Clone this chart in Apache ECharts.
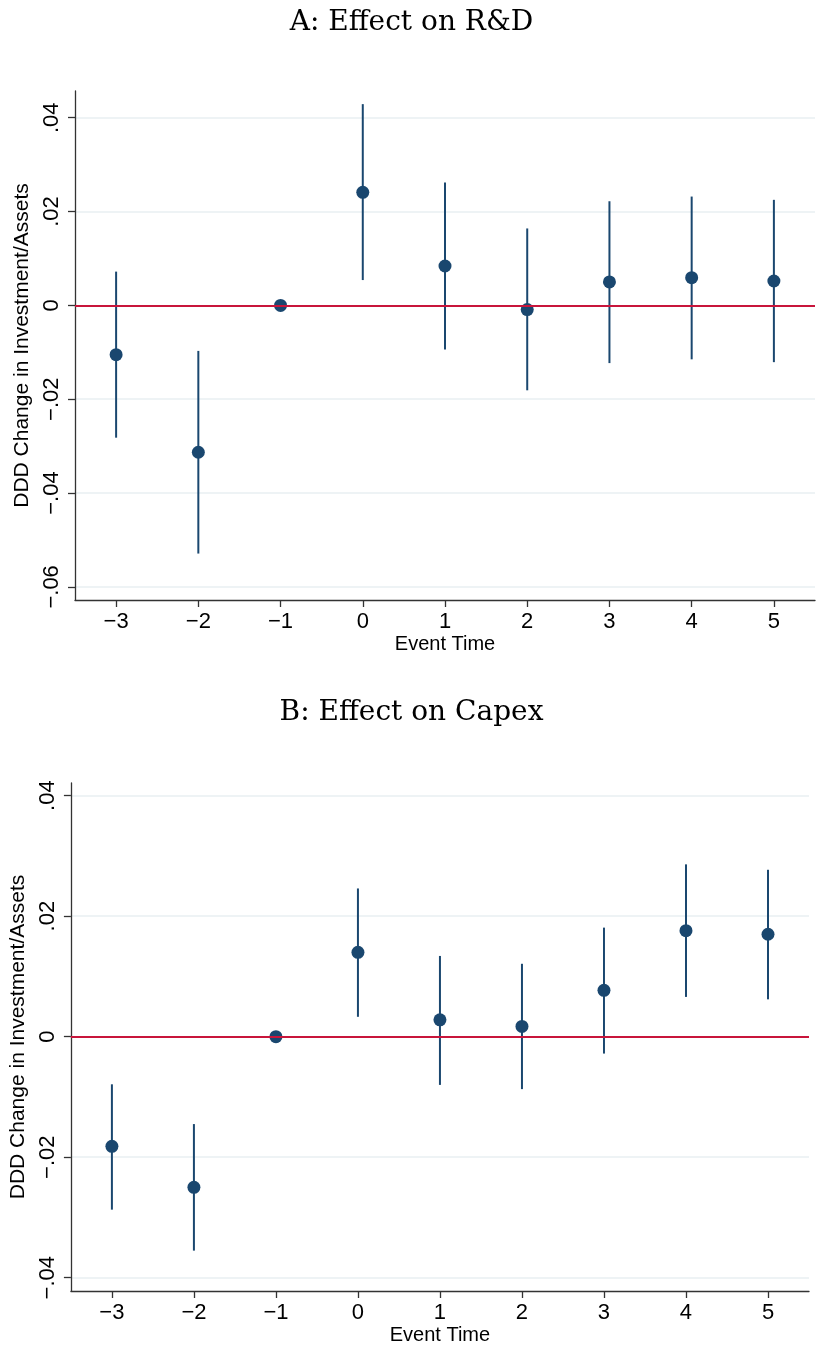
<!DOCTYPE html>
<html>
<head>
<meta charset="utf-8">
<title>DDD event study</title>
<script src="https://cdn.jsdelivr.net/npm/echarts@6/dist/echarts.min.js"></script>
<style>
html,body{margin:0;padding:0;background:#fff;}
#main{width:823px;height:1348px;}
</style>
</head>
<body>
<div id="main"></div>
<script>
// event time
var eventTime = [-3, -2, -1, 0, 1, 2, 3, 4, 5];

// A: R&D
var rdCoef = [-0.0105, -0.0313, 0, 0.0241, 0.0084, -0.0009, 0.0050, 0.0059, 0.0052];
var rdLow  = [-0.0282, -0.0529, null, 0.0054, -0.0094, -0.0181, -0.0123, -0.0115, -0.0121];
var rdHigh = [0.0072, -0.0097, null, 0.0429, 0.0262, 0.0164, 0.0222, 0.0232, 0.0225];

// B: Capex
var capexCoef = [-0.0182, -0.0250, 0, 0.0140, 0.0028, 0.0017, 0.0077, 0.0176, 0.0170];
var capexLow  = [-0.0287, -0.0355, null, 0.0033, -0.0080, -0.0087, -0.0028, 0.0066, 0.0062];
var capexHigh = [-0.0079, -0.0145, null, 0.0246, 0.0134, 0.0121, 0.0181, 0.0286, 0.0277];

// tick labels
var xTicks = [-3, -2, -1, 0, 1, 2, 3, 4, 5];
var rdTicks = [-0.06, -0.04, -0.02, 0, 0.02, 0.04];
var capexTicks = [-0.04, -0.02, 0, 0.02, 0.04];

var navy = '#1a476f';
var red = '#c8153b';
var sans = 'Liberation Sans';

function xFmt(v){
	return v < 0 ? '\u2212' + Math.abs(v) : '' + v;
}
function yFmt(v){
	if (Math.abs(v) < 1e-9) return '0';
	return (v < 0 ? '\u2212' : '') + Math.abs(v).toFixed(2).replace(/^0/, '');
}

function points(coef){
	var out = [];
	for (var i = 0; i < eventTime.length; i++) out.push([eventTime[i], coef[i]]);
	return out;
}
function bars(lo, hi){
	var out = [];
	for (var i = 0; i < eventTime.length; i++){
		if (lo[i] == null) continue;
		out.push([eventTime[i], lo[i], hi[i]]);
	}
	return out;
}

function renderBar(params, api){
	var a = api.coord([api.value(0), api.value(1)]);
	var b = api.coord([api.value(0), api.value(2)]);
	return {
		type: 'line',
		shape: {x1: a[0], y1: a[1], x2: b[0], y2: b[1]},
		style: {stroke: navy, lineWidth: 2}
	};
}

function xAxisCfg(idx){
	return {
		type: 'value', gridIndex: idx, min: -3.5, max: 5.5,
		name: 'Event Time', nameLocation: 'middle', nameGap: 34,
		nameTextStyle: {fontFamily: sans, fontSize: 20, color: '#000'},
		axisLine: {show: true, onZero: false, lineStyle: {color: '#333', width: 1.3}},
		axisTick: {show: true, length: 7, customValues: xTicks, lineStyle: {color: '#333', width: 1.3}},
		axisLabel: {customValues: xTicks, formatter: xFmt, fontFamily: sans, fontSize: 22, color: '#000', margin: 11},
		splitLine: {show: false}
	};
}

function yAxisCfg(idx, min, max, ticks){
	return {
		type: 'value', gridIndex: idx, min: min, max: max,
		name: 'DDD Change in Investment/Assets', nameLocation: 'middle', nameGap: 41, nameRotate: 90,
		nameTextStyle: {fontFamily: sans, fontSize: 21, color: '#000'},
		axisLine: {show: true, onZero: false, lineStyle: {color: '#333', width: 1.3}},
		axisTick: {show: true, length: 7, customValues: ticks, lineStyle: {color: '#333', width: 1.3}},
		axisLabel: {customValues: ticks, formatter: yFmt, rotate: 90, fontFamily: sans, fontSize: 22, color: '#000', margin: 12},
		splitLine: {show: true, lineStyle: {color: '#e8eff2', width: 1.5}}
	};
}

var myChart = echarts.init(document.getElementById('main'));

var option = {
	animation: false,
	backgroundColor: '#fff',
	title: [
		{text: 'A: Effect on R&D', left: 'center', top: 4,
		 textStyle: {fontFamily: 'DejaVu Serif', fontWeight: 'normal', fontSize: 28, color: '#000'}},
		{text: 'B: Effect on Capex', left: 'center', top: 694,
		 textStyle: {fontFamily: 'DejaVu Serif', fontWeight: 'normal', fontSize: 28, color: '#000'}}
	],
	grid: [
		{left: 75, top: 91, width: 740, height: 509},
		{left: 69, top: 783, width: 740, height: 508}
	],
	xAxis: [xAxisCfg(0), xAxisCfg(1)],
	yAxis: [
		yAxisCfg(0, -0.0628, 0.0457, rdTicks),
		yAxisCfg(1, -0.0422, 0.0421, capexTicks)
	],
	series: [
		// zero lines
		{type: 'line', xAxisIndex: 0, yAxisIndex: 0, data: [], z: 1,
		 markLine: {silent: true, symbol: 'none', label: {show: false},
		  lineStyle: {color: red, width: 2, type: 'solid'}, data: [{yAxis: 0}]}},
		{type: 'line', xAxisIndex: 1, yAxisIndex: 1, data: [], z: 1,
		 markLine: {silent: true, symbol: 'none', label: {show: false},
		  lineStyle: {color: red, width: 2, type: 'solid'}, data: [{yAxis: 0}]}},
		// confidence intervals
		{type: 'custom', xAxisIndex: 0, yAxisIndex: 0, z: 2, renderItem: renderBar,
		 encode: {x: 0, y: [1, 2]}, data: bars(rdLow, rdHigh)},
		{type: 'custom', xAxisIndex: 1, yAxisIndex: 1, z: 2, renderItem: renderBar,
		 encode: {x: 0, y: [1, 2]}, data: bars(capexLow, capexHigh)},
		// point estimates
		{type: 'scatter', xAxisIndex: 0, yAxisIndex: 0, z: 3, symbolSize: 13,
		 itemStyle: {color: navy, opacity: 1}, data: points(rdCoef)},
		{type: 'scatter', xAxisIndex: 1, yAxisIndex: 1, z: 3, symbolSize: 13,
		 itemStyle: {color: navy, opacity: 1}, data: points(capexCoef)}
	]
};
myChart.setOption(option);
</script>
</body>
</html>
